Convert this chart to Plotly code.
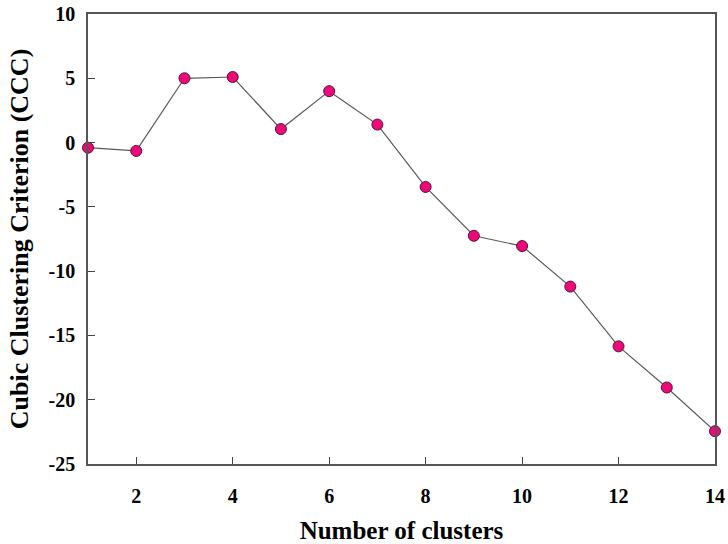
import plotly.graph_objects as go

clusters = [1, 2, 3, 4, 5, 6, 7, 8, 9, 10, 11, 12, 13, 14]
ccc = [-0.4, -0.65, 5.0, 5.1, 1.05, 4.0, 1.4, -3.45, -7.25, -8.05, -11.2, -15.85, -19.05, -22.45]
x_ticks = [2, 4, 6, 8, 10, 12, 14]
y_ticks = [-25, -20, -15, -10, -5, 0, 5, 10]

fig = go.Figure()
fig.add_trace(go.Scatter(
    x=clusters, y=ccc, mode="lines+markers",
    line=dict(color="#5a5a5a", width=1.2),
    marker=dict(size=11, color="#EC0A7A", line=dict(color="#5a1030", width=1)),
    cliponaxis=False,
))

font_tick = dict(family="Liberation Serif", size=20, color="black")
font_xtitle = dict(family="Liberation Serif", size=25, color="black")
font_ytitle = dict(family="Liberation Serif", size=26, color="black")

fig.update_layout(
    width=728, height=544,
    margin=dict(l=88, r=13, t=14, b=80),
    paper_bgcolor="white", plot_bgcolor="white",
    showlegend=False,
    xaxis=dict(
        range=[1, 14], tickvals=x_ticks, ticktext=[f"<b>{v}</b>" for v in x_ticks],
        ticks="inside", ticklen=7, tickcolor="#444", tickwidth=1.3,
        showline=True, linecolor="#555", linewidth=1.5, mirror=True,
        showgrid=False, zeroline=False, tickfont=font_tick, ticklabelstandoff=13,
        automargin=False,
        title=dict(text="<b>Number of clusters</b>", font=font_xtitle, standoff=24),
    ),
    yaxis=dict(
        range=[-25, 10], tickvals=y_ticks, ticktext=[f"<b>{v}</b>" for v in y_ticks],
        ticks="inside", ticklen=7, tickcolor="#444", tickwidth=1.3,
        showline=True, linecolor="#555", linewidth=1.5, mirror=True,
        showgrid=False, zeroline=False, tickfont=font_tick, ticklabelstandoff=7,
        automargin=False,
        title=dict(text="<b>Cubic Clustering Criterion (CCC)</b>", font=font_ytitle, standoff=12),
    ),
)

fig.write_html(
    "out.html",
    config={"displayModeBar": False},
    post_script="document.body.style.margin='0';document.body.style.overflow='hidden';",
)
